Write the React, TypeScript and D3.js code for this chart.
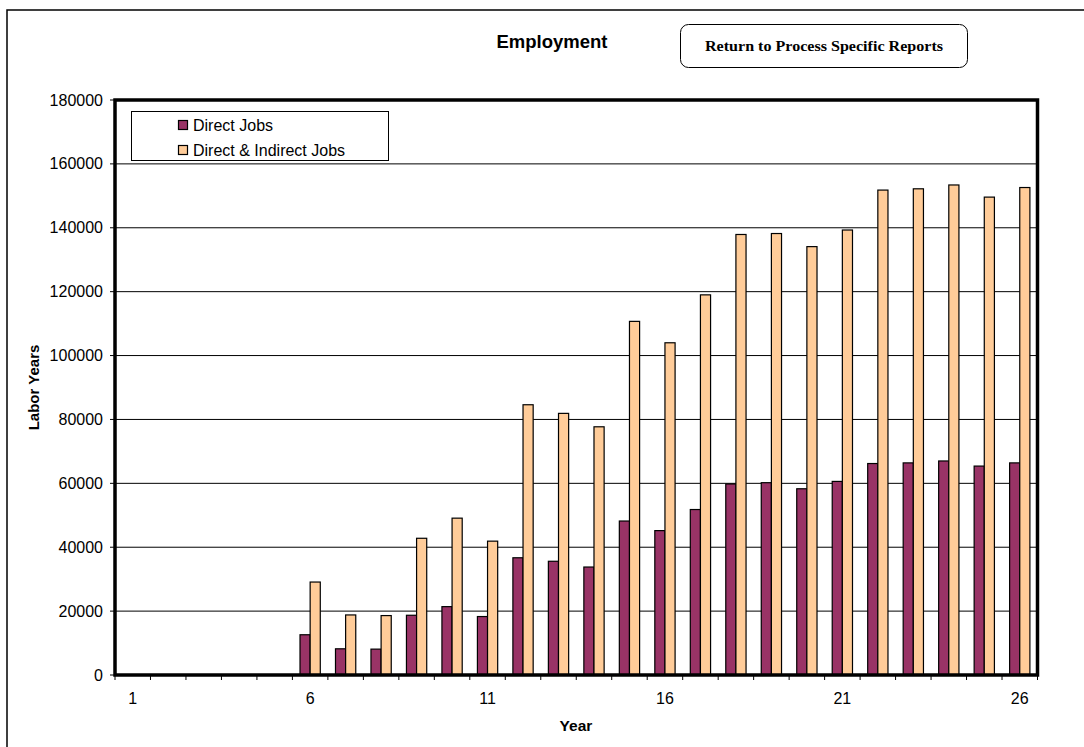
import React from "react";
import * as d3 from "d3";

const years = ["1","2","3","4","5","6","7","8","9","10","11","12","13","14","15","16","17","18","19","20","21","22","23","24","25","26"];
const directJobs = [0,0,0,0,0,12600,8200,8100,18700,21400,18300,36700,35600,33800,48200,45200,51800,59800,60200,58300,60600,66200,66400,67000,65400,66400];
const allJobs = [0,0,0,0,0,29100,18800,18600,42800,49100,41900,84600,81900,77700,110700,104000,119000,137900,138200,134100,139300,151800,152200,153400,149600,152600];
const seriesNames = ["Direct Jobs", "Direct & Indirect Jobs"];
const seriesColors = ["#993366", "#FFCC99"];
const xTickLabels = ["1","6","11","16","21","26"];
const yTicks = [0,20000,40000,60000,80000,100000,120000,140000,160000,180000];

export default function App() {
  const W = 1084, H = 747;
  const left = 115, right = 1037.5, top = 100, bottom = 675;
  const x = d3.scaleBand<string>().domain(years).range([left, right]).paddingInner(1.5 / 3.5).paddingOuter(0.75 / 3.5);
  const xs = d3.scaleBand<number>().domain([0, 1]).range([0, x.bandwidth()]);
  const y = d3.scaleLinear().domain([0, 180000]).range([bottom, top]);
  const step = x.step();
  const series = [directJobs, allJobs];
  const sans = "'Liberation Sans', Arial, sans-serif";

  return (
    <svg width={W} height={H} style={{ position: "absolute", left: 0, top: 0, background: "#fff" }}>
      <rect x={0} y={0} width={W} height={H} fill="#fff" />
      {/* outer frame */}
      <rect x={7} y={10} width={1200} height={900} fill="none" stroke="#000" strokeWidth={1.5} />
      {/* title */}
      <text x={552} y={48} textAnchor="middle" fontFamily={sans} fontWeight="bold" fontSize={18.5}>Employment</text>
      {/* button */}
      <rect x={680.5} y={24.5} width={287} height={43} rx={8} ry={8} fill="#fff" stroke="#000" strokeWidth={1} />
      <text x={824} y={51} textAnchor="middle" fontFamily="'Liberation Serif', 'Times New Roman', serif" fontWeight="bold" fontSize={14} textLength={238} lengthAdjust="spacingAndGlyphs">Return to Process Specific Reports</text>

      {/* gridlines */}
      {yTicks.filter(t => t > 0 && t < 180000).map(t => (
        <line key={"g" + t} x1={left} x2={right} y1={y(t)} y2={y(t)} stroke="#000" strokeWidth={1} />
      ))}

      {/* bars */}
      {years.map((yr, i) => (
        <g key={yr}>
          {series.map((s, k) => s[i] > 0 ? (
            <rect key={k} x={(x(yr) as number) + (xs(k) as number)} y={y(s[i])} width={xs.bandwidth()} height={y(0) - y(s[i])}
              fill={seriesColors[k]} stroke="#000" strokeWidth={1.2} />
          ) : null)}
        </g>
      ))}

      {/* y ticks */}
      {yTicks.map(t => (
        <g key={"y" + t}>
          <line x1={left - 5} x2={left} y1={y(t)} y2={y(t)} stroke="#000" strokeWidth={1} />
          <text x={103} y={y(t) + 5.5} textAnchor="end" fontFamily={sans} fontSize={16}>{t}</text>
        </g>
      ))}
      {/* x ticks */}
      {d3.range(years.length + 1).map(i => (
        <line key={"xt" + i} x1={left + i * step} x2={left + i * step} y1={bottom} y2={bottom + 5} stroke="#000" strokeWidth={1} />
      ))}
      {xTickLabels.map(l => (
        <text key={"xl" + l} x={(x(l) as number) + x.bandwidth() / 2} y={704} textAnchor="middle" fontFamily={sans} fontSize={16}>{l}</text>
      ))}

      {/* plot border */}
      <rect x={left} y={top} width={right - left} height={bottom - top} fill="none" stroke="#000" strokeWidth={3.5} />

      {/* axis titles */}
      <text x={576} y={731} textAnchor="middle" fontFamily={sans} fontWeight="bold" fontSize={15.5}>Year</text>
      <text transform={`translate(39,${(top + bottom) / 2}) rotate(-90)`} textAnchor="middle" fontFamily={sans} fontWeight="bold" fontSize={15}>Labor Years</text>

      {/* legend */}
      <rect x={131.5} y={111.5} width={257} height={49} fill="#fff" stroke="#000" strokeWidth={1} />
      {seriesNames.map((n, k) => (
        <g key={n}>
          <rect x={178.5} y={120.5 + k * 25} width={9} height={9} fill={seriesColors[k]} stroke="#000" strokeWidth={1.2} />
          <text x={193} y={130.5 + k * 25} fontFamily={sans} fontSize={16}>{n}</text>
        </g>
      ))}
    </svg>
  );
}
